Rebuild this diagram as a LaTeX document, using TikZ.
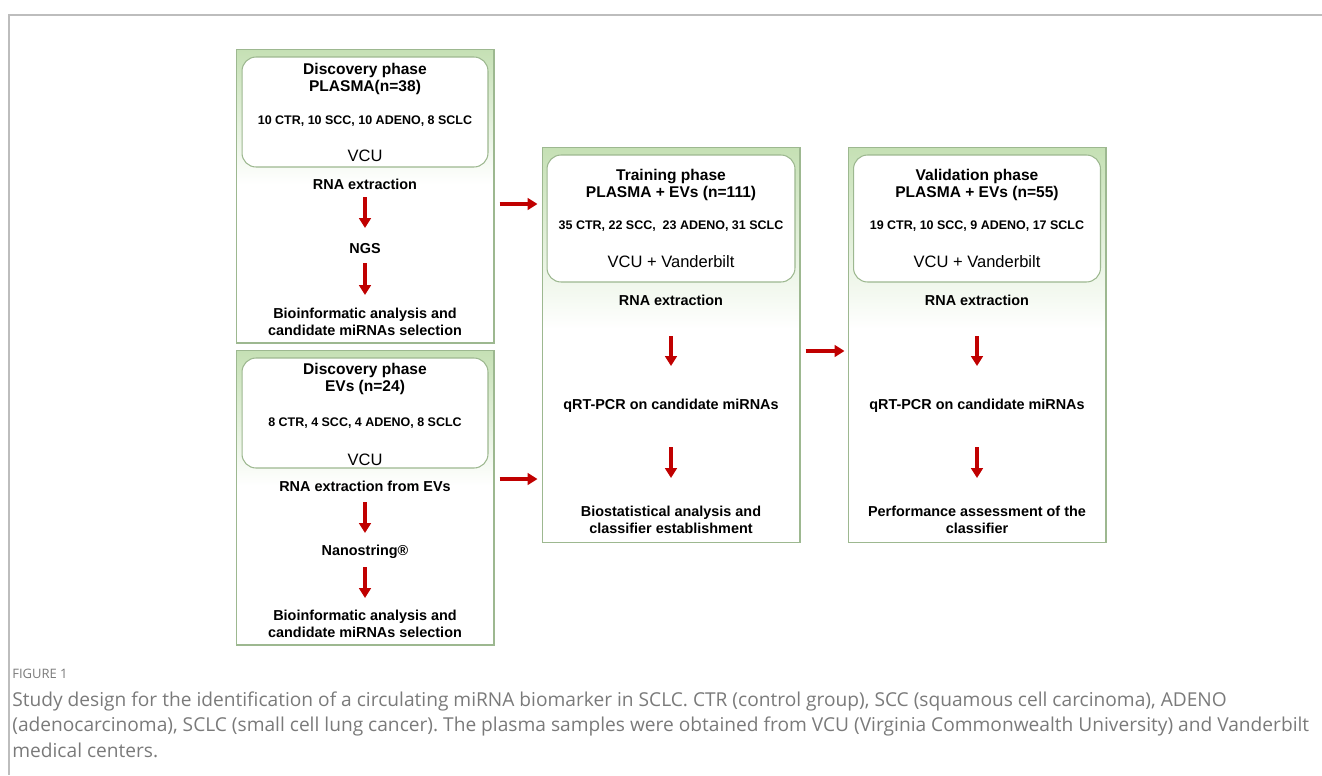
\documentclass[tikz,border=0pt]{standalone}
\usepackage{fontspec}
\setmainfont{Liberation Sans}
\newfontfamily\capfont{Open Sans}
\usetikzlibrary{arrows.meta}

\definecolor{phasegreen}{HTML}{C5E0B4}
\definecolor{phaseline}{HTML}{9DB890}
\definecolor{arrowred}{HTML}{C00000}
\definecolor{captiongray}{HTML}{7A7A7A}
\definecolor{framegray}{HTML}{BDBDBD}

% top of each phase box fades from green to white
\pgfdeclareverticalshading{phasefade}{100bp}{%
  color(0bp)=(white); color(52bp)=(white);
  color(75bp)=(phasegreen); color(100bp)=(phasegreen)}

\begin{document}
\frenchspacing
\begin{tikzpicture}[
    x=0.02cm, y=-0.02cm,
    phasebox/.style={
        draw=phaseline,
        line width=0.6pt,
        shading=phasefade,
        minimum width=5.16cm
    },
    samplebox/.style={
        draw=phaseline,
        line width=0.6pt,
        fill=white,
        rounded corners=0.28cm
    },
    title/.style={
        font=\fontsize{8.85}{9.7}\selectfont\bfseries,
        align=center,
        inner sep=0pt
    },
    counts/.style={
        font=\fontsize{7.1}{8.5}\selectfont\bfseries,
        inner sep=0pt
    },
    site/.style={
        font=\fontsize{9.4}{11}\selectfont,
        inner sep=0pt
    },
    stepline/.style={
        font=\fontsize{8.2}{9.7}\selectfont\bfseries,
        align=center,
        inner sep=0pt
    },
    flow/.style={
        draw=arrowred,
        line width=2pt,
        -{Triangle[width=6.6pt,length=5.6pt]}
    }
]

\useasboundingbox (0,0) rectangle (1322,775);

% Horizontal positions of the three columns
\def\DiscX{365}
\def\TrainX{671}
\def\ValidX{977}

% page frame
\draw[framegray, line width=0.6pt] (1322,15) -- (9,15) -- (9,775);

% ==================================================
% Discovery phase, plasma
% ==================================================

\node[phasebox, minimum height=5.88cm] (boxA) at (\DiscX,196) {};
\node[samplebox, minimum width=4.92cm, minimum height=2.2cm] (sampA) at (\DiscX,112) {};

\node[title] (titleA) at (\DiscX,78.5)
    {Discovery phase\\PLASMA(n=38)};
\node[counts] (countA) at (\DiscX,121)
    {10 CTR, 10 SCC, 10 ADENO, 8 SCLC};
\node[site] (siteA) at (\DiscX,156) {VCU};

\node[stepline] (rnaA) at (\DiscX,184) {RNA extraction};
\node[stepline] (ngsA) at (\DiscX,249) {NGS};
\node[stepline] (bioA) at (\DiscX,321.5)
    {Bioinformatic analysis and\\candidate miRNAs selection};

\draw[flow, shorten <=0.26cm, shorten >=0.42cm] (rnaA.center) -- (ngsA.center);
\draw[flow, shorten <=0.28cm, shorten >=0.53cm] (ngsA.center) -- (bioA.center);

% ==================================================
% Discovery phase, EVs
% ==================================================

\node[phasebox, minimum height=5.9cm] (boxB) at (\DiscX,497.5) {};
\node[samplebox, minimum width=4.92cm, minimum height=2.2cm] (sampB) at (\DiscX,413) {};

\node[title] (titleB) at (\DiscX,379)
    {Discovery phase\\EVs (n=24)};
\node[counts] (countB) at (\DiscX,423)
    {8 CTR, 4 SCC, 4 ADENO, 8 SCLC};
\node[site] (siteB) at (\DiscX,460) {VCU};

\node[stepline] (rnaB) at (\DiscX,486) {RNA extraction from EVs};
\node[stepline] (nanoB) at (\DiscX,552) {Nanostring®};
\node[stepline] (bioB) at (\DiscX,623.5)
    {Bioinformatic analysis and\\candidate miRNAs selection};

\draw[flow, shorten <=0.32cm, shorten >=0.38cm] (rnaB.center) -- (nanoB.center);
\draw[flow, shorten <=0.30cm, shorten >=0.51cm] (nanoB.center) -- (bioB.center);

% ==================================================
% Training phase
% ==================================================

\node[phasebox, minimum height=7.92cm] (boxC) at (\TrainX,345) {};
\node[samplebox, minimum width=4.96cm, minimum height=2.54cm] (sampC) at (\TrainX,218.5) {};

\node[title] (titleC) at (\TrainX,185)
    {Training phase\\PLASMA + EVs (n=111)};
\node[counts] (countC) at (\TrainX,226)
    {35 CTR, 22 SCC,\ \ 23 ADENO, 31 SCLC};
\node[site] (siteC) at (\TrainX,262) {VCU + Vanderbilt};

\node[stepline] (rnaC) at (\TrainX,300) {RNA extraction};
\node[stepline] (qpcrC) at (\TrainX,406) {qRT-PCR on candidate miRNAs};
\node[stepline] (bioC) at (\TrainX,519.5)
    {Biostatistical analysis and\\classifier establishment};

\draw[flow, shorten <=0.72cm, shorten >=0.80cm] (rnaC.center) -- (qpcrC.center);
\draw[flow, shorten <=0.82cm, shorten >=0.83cm] (qpcrC.center) -- (bioC.center);

% ==================================================
% Validation phase
% ==================================================

\node[phasebox, minimum height=7.92cm] (boxD) at (\ValidX,345) {};
\node[samplebox, minimum width=4.94cm, minimum height=2.54cm] (sampD) at (\ValidX,218.5) {};

\node[title] (titleD) at (\ValidX,185)
    {Validation phase\\PLASMA + EVs (n=55)};
\node[counts] (countD) at (\ValidX,226)
    {19 CTR, 10 SCC, 9 ADENO, 17 SCLC};
\node[site] (siteD) at (\ValidX,262) {VCU + Vanderbilt};

\node[stepline] (rnaD) at (\ValidX,300) {RNA extraction};
\node[stepline] (qpcrD) at (\ValidX,406) {qRT-PCR on candidate miRNAs};
\node[stepline] (perfD) at (\ValidX,519.5)
    {Performance assessment of the\\classifier};

\draw[flow, shorten <=0.72cm, shorten >=0.80cm] (rnaD.center) -- (qpcrD.center);
\draw[flow, shorten <=0.82cm, shorten >=0.83cm] (qpcrD.center) -- (perfD.center);

% ==================================================
% Links between phases
% ==================================================

\draw[flow, shorten <=0.1cm, shorten >=0.08cm]
    ([yshift=-0.16cm]boxA.east) -- ([yshift=-0.16cm]boxA.east -| boxC.west);
\draw[flow, shorten <=0.1cm, shorten >=0.08cm]
    ([yshift=0.37cm]boxB.east) -- ([yshift=0.37cm]boxB.east -| boxC.west);
\draw[flow, shorten <=0.1cm, shorten >=0.06cm]
    ([yshift=-0.12cm]boxC.east) -- ([yshift=-0.12cm]boxC.east -| boxD.west);

% ==================================================
% Caption
% ==================================================

\node[anchor=base west, inner sep=0pt, text=captiongray,
      font=\capfont\fontsize{7.4}{8}\selectfont] (figlabel) at (12,678) {FIGURE 1};
\node[anchor=north west, inner sep=0pt, text=captiongray, align=left,
      font=\capfont\fontsize{10.9}{14.6}\selectfont] (caption) at (12,691)
    {Study design for the identification of a circulating miRNA biomarker in SCLC. CTR (control group), SCC (squamous cell carcinoma), ADENO\\
     (adenocarcinoma), SCLC (small cell lung cancer). The plasma samples were obtained from VCU (Virginia Commonwealth University) and Vanderbilt\\
     medical centers.};

\end{tikzpicture}
\end{document}
